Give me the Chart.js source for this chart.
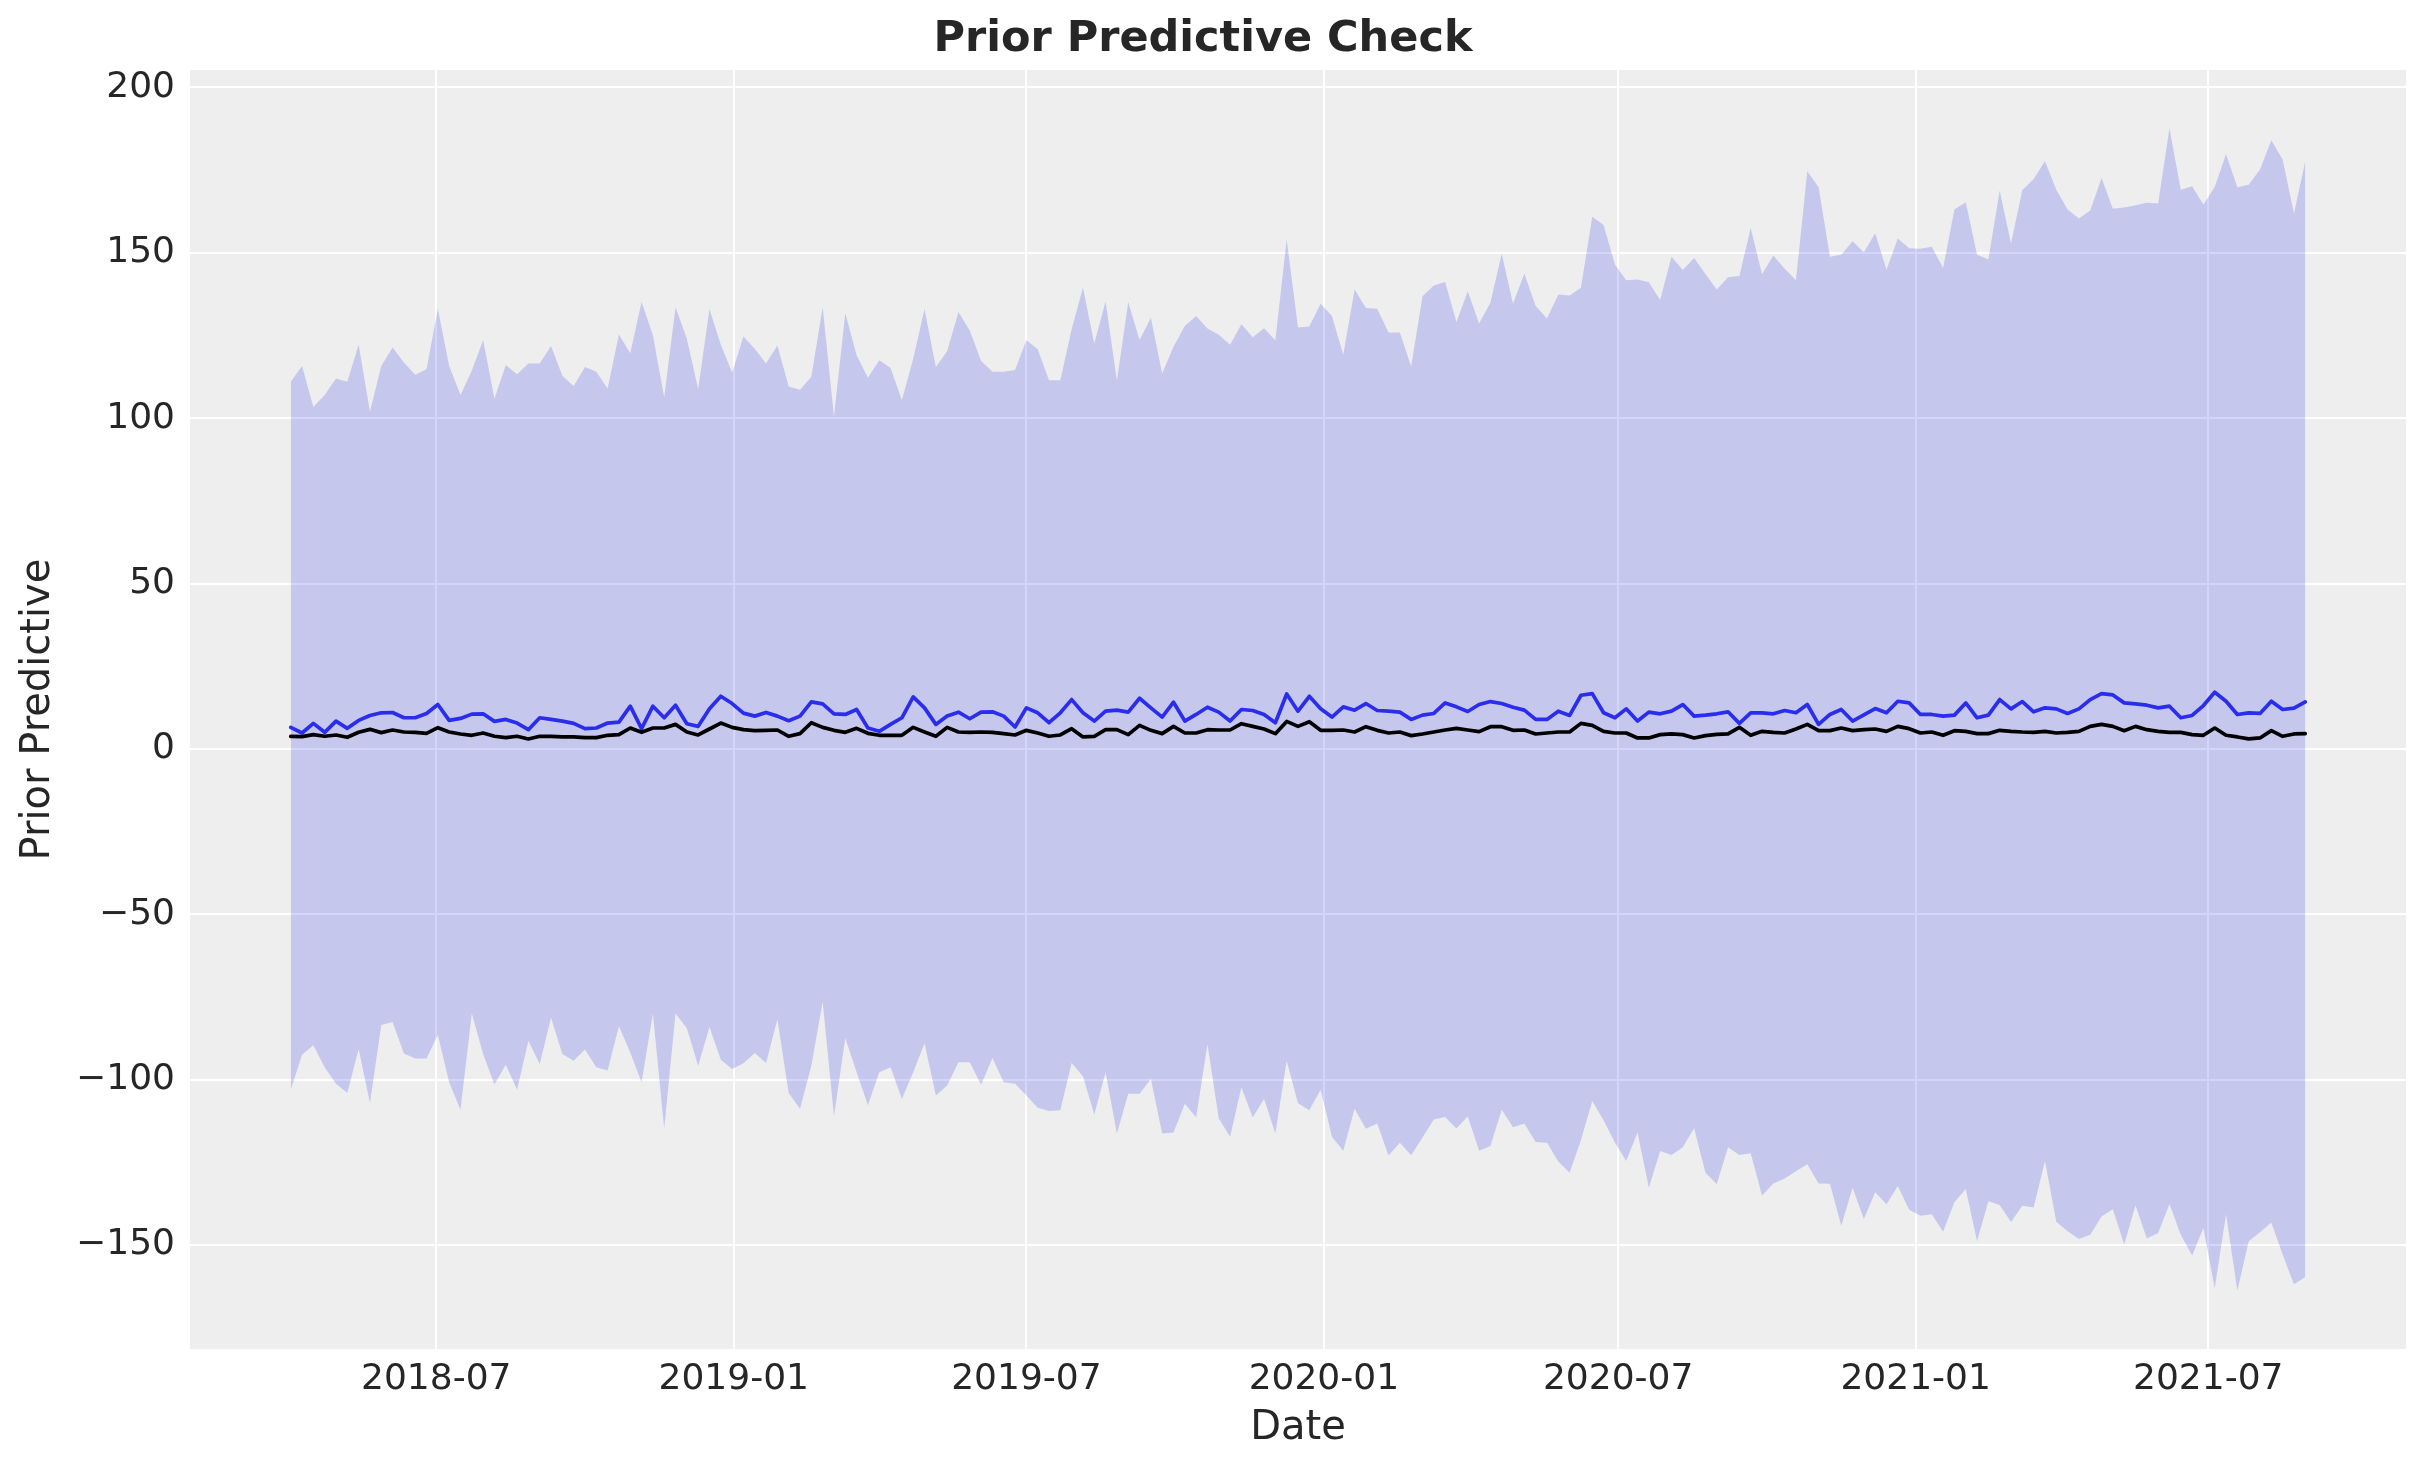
<!DOCTYPE html>
<html>
<head>
<meta charset="utf-8">
<script src="https://cdn.jsdelivr.net/npm/chart.js@4.4.1/dist/chart.umd.min.js"></script>
<style>
html,body{margin:0;padding:0;background:#ffffff;}
#wrap{width:2423px;height:1473px;position:relative;}
canvas{display:block;}
</style>
</head>
<body>
<div id="wrap"><canvas id="c" width="2423" height="1473" style="width:2423px;height:1473px"></canvas></div>
<script>
// ---- data (weekly, starting on startDate) ----
const startDate = '2018-04-02';

const upper = [
111.0,115.8,103.4,107.0,112.0,111.0,122.2,101.9,115.8,121.4,
116.8,113.1,114.8,133.1,115.8,107.0,114.3,123.6,105.9,116.1,
113.3,116.5,116.5,121.8,112.8,109.7,115.5,114.0,109.0,125.3,
119.6,135.1,125.1,106.3,133.5,124.0,108.8,132.9,122.2,113.8,
124.7,121.0,116.5,122.0,109.6,108.6,112.5,133.5,100.5,131.7,
119.0,112.2,117.5,115.2,105.4,118.0,132.9,115.5,120.2,132.1,
126.4,117.3,114.0,114.0,114.6,123.6,120.8,111.5,111.5,126.9,
139.4,122.6,135.3,111.3,135.1,123.6,130.4,113.5,121.6,127.9,
130.9,127.1,125.2,122.2,128.4,124.5,127.2,123.5,154.0,127.4,
127.7,134.6,130.9,119.2,138.9,133.3,133.1,125.9,125.9,115.6,
136.9,140.1,141.2,129.1,138.4,128.6,134.9,149.7,134.6,143.7,
133.9,130.1,137.4,137.1,139.4,160.9,158.4,146.5,141.7,141.9,
141.1,135.7,148.8,144.8,148.4,143.6,138.9,142.6,143.0,157.5,
143.5,149.2,145.2,141.7,174.7,169.8,148.8,149.4,153.5,150.2,
155.9,144.9,154.3,151.4,151.2,151.8,145.4,163.1,165.3,149.4,
148.0,168.8,152.8,169.0,172.3,177.7,169.1,163.1,160.4,162.8,
172.6,163.3,163.7,164.4,165.1,164.9,187.7,169.1,170.1,164.6,
169.9,179.8,169.8,170.6,175.2,184.0,178.2,161.9,177.7
];

const lower = [
-103.1,-92.5,-89.6,-96.3,-101.3,-104.1,-90.8,-107.1,-83.5,-82.6,
-92.1,-93.6,-93.6,-86.5,-100.8,-109.1,-80.0,-92.3,-101.5,-95.5,
-103.1,-88.3,-95.3,-81.3,-92.3,-94.3,-90.9,-96.3,-97.3,-83.8,
-91.8,-100.8,-80.1,-114.8,-80.0,-84.5,-95.8,-84.1,-94.0,-96.8,
-95.1,-92.0,-95.0,-81.8,-104.1,-108.8,-95.8,-76.5,-111.0,-87.5,
-97.8,-107.8,-97.8,-96.3,-105.9,-97.8,-89.0,-104.8,-101.8,-94.8,
-94.8,-101.6,-93.5,-100.8,-101.3,-104.8,-108.5,-109.5,-109.3,-95.0,
-99.0,-110.6,-97.8,-116.3,-104.3,-104.3,-99.8,-116.3,-116.0,-107.3,
-111.5,-89.3,-111.8,-117.3,-102.3,-111.5,-105.8,-116.3,-94.3,-107.2,
-109.3,-103.1,-117.3,-121.5,-108.8,-114.9,-113.3,-123.0,-119.1,-122.9,
-117.5,-112.1,-111.3,-114.8,-111.1,-121.5,-120.1,-109.1,-114.4,-113.3,
-118.9,-119.1,-124.8,-128.2,-118.3,-106.5,-112.3,-119.0,-124.6,-116.0,
-132.7,-121.6,-122.8,-120.5,-114.7,-128.2,-131.6,-120.5,-122.8,-122.3,
-135.1,-131.4,-129.9,-127.7,-125.6,-131.4,-131.5,-144.2,-132.7,-142.2,
-134.1,-137.7,-132.2,-139.4,-141.2,-140.7,-146.0,-137.1,-133.1,-148.9,
-136.8,-137.9,-143.1,-138.2,-138.7,-124.6,-143.0,-145.9,-148.2,-146.9,
-141.4,-139.2,-149.9,-138.0,-148.1,-146.4,-137.6,-146.9,-153.2,-144.9,
-163.2,-140.7,-163.9,-148.9,-146.2,-143.2,-152.9,-161.9,-159.7
];

const predictiveMean = [
6.5,4.8,7.7,5.0,8.4,6.2,8.6,10.1,10.9,11.0,
9.4,9.4,10.7,13.4,8.6,9.2,10.5,10.6,8.3,8.9,
7.8,5.8,9.4,8.9,8.4,7.7,6.1,6.3,7.8,8.1,
12.9,6.1,12.9,9.4,13.2,7.6,6.8,12.1,15.9,13.7,
10.8,9.9,11.0,9.9,8.5,9.9,14.2,13.6,10.6,10.4,
11.9,6.3,5.3,7.4,9.4,15.7,12.4,7.4,9.9,11.1,
9.1,11.1,11.2,9.9,6.6,12.4,10.9,7.9,10.9,14.9,
10.9,8.4,11.4,11.7,11.1,15.3,12.4,9.6,14.1,8.4,
10.4,12.6,11.1,8.4,11.9,11.6,10.4,7.9,16.6,11.4,
15.9,12.1,9.6,12.7,11.7,13.7,11.6,11.4,11.1,8.9,
10.2,10.7,13.9,12.7,11.3,13.4,14.3,13.7,12.6,11.7,
8.9,8.9,11.4,10.1,16.2,16.7,10.9,9.4,12.1,8.4,
11.1,10.6,11.4,13.4,9.9,10.2,10.6,11.2,7.7,10.9,
10.9,10.6,11.6,10.9,13.4,7.4,10.4,11.9,8.4,10.3,
12.2,10.9,14.4,13.9,10.4,10.4,9.9,10.2,13.9,9.4,
10.2,14.9,12.1,14.3,11.2,12.4,12.1,10.7,12.1,14.9,
16.7,16.3,13.9,13.6,13.2,12.4,12.9,9.4,10.1,13.1,
17.1,14.4,10.4,10.9,10.7,14.4,11.9,12.3,14.2
];

const observed = [
3.8,3.7,4.3,3.8,4.2,3.5,5.0,5.9,4.9,5.7,
5.1,5.0,4.7,6.4,5.1,4.5,4.1,4.8,3.8,3.4,
3.8,3.0,3.8,3.8,3.6,3.6,3.4,3.4,4.1,4.3,
6.3,5.0,6.3,6.3,7.4,5.1,4.2,6.0,7.8,6.5,
5.8,5.5,5.6,5.7,3.8,4.6,7.9,6.5,5.6,5.0,
6.2,4.7,4.1,4.1,4.1,6.5,5.1,3.8,6.5,5.1,
5.0,5.1,5.0,4.6,4.2,5.6,4.8,3.8,4.2,6.1,
3.6,3.8,5.8,5.8,4.3,7.1,5.6,4.6,6.8,4.8,
4.8,5.8,5.7,5.7,7.6,6.8,6.0,4.6,8.3,6.8,
8.2,5.6,5.6,5.7,5.1,6.7,5.6,4.8,5.1,4.0,
4.5,5.1,5.7,6.2,5.7,5.2,6.7,6.7,5.6,5.7,
4.5,4.8,5.1,5.1,7.7,7.1,5.3,4.8,4.8,3.3,
3.3,4.3,4.5,4.3,3.3,4.0,4.4,4.5,6.5,4.1,
5.3,5.0,4.8,6.0,7.4,5.5,5.5,6.3,5.5,5.8,
6.0,5.3,6.8,6.1,4.8,5.1,4.1,5.5,5.3,4.6,
4.6,5.6,5.3,5.1,5.0,5.3,4.8,5.0,5.3,6.8,
7.4,6.8,5.5,6.8,5.8,5.3,5.0,5.0,4.3,4.1,
6.3,4.1,3.6,3.0,3.3,5.5,3.8,4.5,4.6
];

const xTickDates  = ['2018-07-01','2019-01-01','2019-07-01','2020-01-01','2020-07-01','2021-01-01','2021-07-01'];
const xTickLabels = ['2018-07','2019-01','2019-07','2020-01','2020-07','2021-01','2021-07'];
const yTicks = [-150,-100,-50,0,50,100,150,200];

// ---- helpers ----
const DAY = 86400000;
const t0 = Date.parse(startDate + 'T00:00:00Z');
const dayOf = s => Math.round((Date.parse(s + 'T00:00:00Z') - t0) / DAY);
const weekDays = upper.map((_, i) => i * 7);           // weekly dates as day offsets
const pts = arr => arr.map((v, i) => ({x: weekDays[i], y: v}));
const xTickDays = xTickDates.map(dayOf);

const xFirst = weekDays[0], xLast = weekDays[weekDays.length - 1];
const xPad = (xLast - xFirst) * 0.05;
const yLo = Math.min(...lower), yHi = Math.max(...upper);
const yPad = (yHi - yLo) * 0.05;

const TXT = '#262626';
const FAM = "'DejaVu Sans', 'Liberation Sans', sans-serif";
Chart.defaults.font.family = FAM;

const bgPlugin = {
  id: 'bg',
  beforeDraw(chart) {
    const {ctx, chartArea: a} = chart;
    ctx.save();
    ctx.fillStyle = '#ffffff';
    ctx.fillRect(0, 0, chart.width, chart.height);
    ctx.fillStyle = '#eeeeee';
    ctx.fillRect(a.left, a.top, a.right - a.left, a.bottom - a.top);
    ctx.restore();
  }
};

const fmtY = v => v < 0 ? '\u2212' + Math.abs(v) : String(v);

new Chart(document.getElementById('c'), {
  type: 'line',
  data: {
    datasets: [
      {label: 'observed', data: pts(observed), borderColor: '#000000', borderWidth: 3.7,
       pointRadius: 0, fill: false, tension: 0, order: 0, borderJoinStyle: 'round', borderCapStyle: 'round'},
      {label: 'mean', data: pts(predictiveMean), borderColor: '#2a2eec', borderWidth: 3.7,
       pointRadius: 0, fill: false, tension: 0, order: 1, borderJoinStyle: 'round', borderCapStyle: 'round'},
      {label: 'upper', data: pts(upper), borderColor: 'rgba(0,0,0,0)', borderWidth: 0,
       backgroundColor: 'rgba(42,46,236,0.2)', pointRadius: 0, fill: '+1', tension: 0, order: 2},
      {label: 'lower', data: pts(lower), borderColor: 'rgba(0,0,0,0)', borderWidth: 0,
       pointRadius: 0, fill: false, tension: 0, order: 3}
    ]
  },
  options: {
    responsive: false,
    animation: false,
    devicePixelRatio: 1,
    layout: {padding: {left: 0, right: 17, top: 0, bottom: 0}},
    plugins: {
      legend: {display: false},
      tooltip: {enabled: false},
      title: {
        display: true,
        text: 'Prior Predictive Check',
        color: TXT,
        font: {size: 43, weight: 'bold', family: FAM},
        padding: {top: 14, bottom: 4.4}
      }
    },
    scales: {
      x: {
        type: 'linear',
        position: 'bottom',
        min: xFirst - xPad,
        max: xLast + xPad,
        afterBuildTicks: s => { s.ticks = xTickDays.map(v => ({value: v})); },
        afterFit: s => { s.height = 124; s.paddingLeft = 0; s.paddingRight = 0; },
        ticks: {
          autoSkip: false, maxRotation: 0, minRotation: 0,
          color: TXT, font: {size: 36, family: FAM}, padding: 9,
          callback: v => xTickLabels[xTickDays.indexOf(v)]
        },
        grid: {color: '#ffffff', lineWidth: 2, drawTicks: false},
        border: {display: false},
        title: {display: true, text: 'Date', color: TXT, font: {size: 40, family: FAM},
                padding: {top: 0, bottom: 20}}
      },
      y: {
        type: 'linear',
        min: yLo - yPad,
        max: yHi + yPad,
        afterBuildTicks: s => { s.ticks = yTicks.map(v => ({value: v})); },
        afterFit: s => { s.width = 190; s.paddingTop = 0; s.paddingBottom = 0; },
        ticks: {
          color: TXT, font: {size: 36, family: FAM}, padding: 15,
          callback: v => fmtY(v)
        },
        grid: {color: '#ffffff', lineWidth: 2, drawTicks: false},
        border: {display: false},
        title: {display: true, text: 'Prior Predictive', color: TXT, font: {size: 40, family: FAM},
                padding: {top: 15, bottom: 0}}
      }
    }
  },
  plugins: [bgPlugin]
});
</script>
</body>
</html>
